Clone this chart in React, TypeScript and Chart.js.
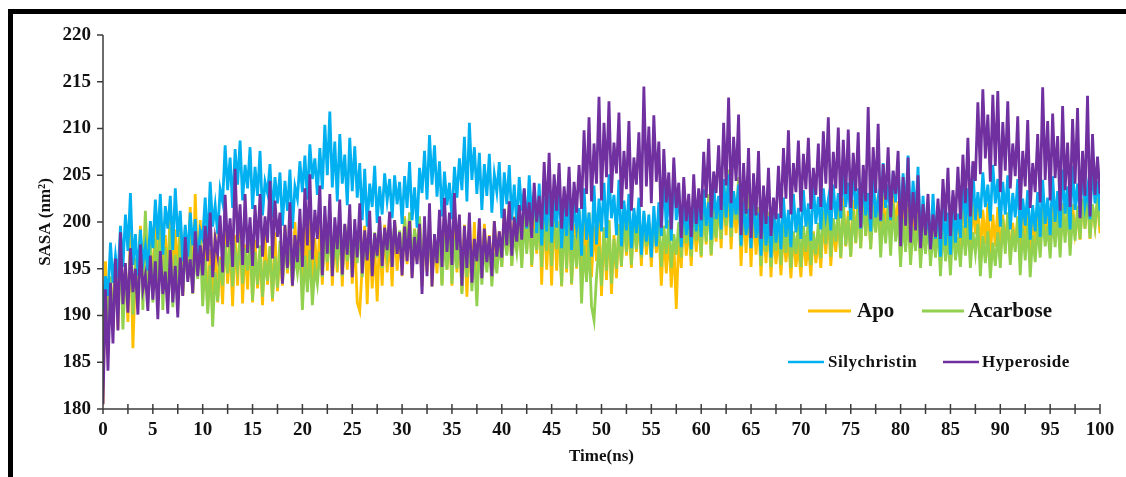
import React, { useEffect, useRef } from "react";
import { Chart, registerables } from "chart.js";

Chart.register(...registerables);

// Time step between samples (ns); samples run from 0 to 100 ns
const TIME_STEP_NS = 0.25;
const X_MIN = 0;
const X_MAX = 100;
const Y_MIN = 180;
const Y_MAX = 220;

const SERIES_NAMES = ["Apo", "Acarbose", "Silychristin", "Hyperoside"];
const SERIES_COLORS = ["#FFC000", "#92D050", "#00B0F0", "#7030A0"];

// SASA (nm^2), one value every 0.25 ns (20 values per 5 ns line)
const apo = [
  180.5, 195.8, 187.2, 194.1, 189.0, 196.3, 188.5, 198.4, 190.6, 195.2, 189.3, 198.9, 186.5, 194.7, 192.4, 199.6, 192.2, 200.8, 193.8, 198.5,
  192.5, 199.9, 194.1, 201.7, 192.3, 198.6, 193.7, 202.0, 192.6, 199.2, 194.4, 200.5, 192.1, 199.4, 193.9, 201.6, 192.3, 203.0, 194.8, 200.2,
  193.1, 198.4, 190.6, 197.1, 192.2, 198.9, 191.4, 196.3, 191.2, 199.5, 193.4, 197.8, 191.0, 198.6, 193.2, 199.9, 191.3, 197.6, 192.8, 199.1,
  191.4, 198.1, 192.9, 196.8, 191.1, 198.7, 193.3, 197.4, 191.5, 198.9, 192.6, 196.9, 193.2, 199.6, 194.5, 198.2, 193.1, 200.0, 194.7, 197.9,
  192.2, 199.8, 193.7, 200.9, 192.4, 198.3, 194.1, 199.5, 193.3, 200.6, 194.8, 201.0, 193.2, 198.9, 194.6, 200.4, 193.1, 199.7, 194.9, 200.8,
  193.4, 198.5, 191.4, 190.5, 195.2, 199.6, 191.2, 198.8, 192.9, 197.4, 191.5, 199.0, 193.2, 199.7, 194.6, 198.4, 193.1, 200.2, 194.8, 198.9,
  194.2, 200.6, 195.5, 201.0, 194.1, 199.3, 195.8, 200.4, 193.2, 199.1, 194.7, 200.0, 193.1, 198.5, 194.5, 199.6, 193.3, 200.8, 194.9, 199.4,
  193.2, 200.9, 194.6, 199.0, 192.5, 199.7, 192.0, 198.4, 193.4, 200.0, 192.3, 199.2, 194.2, 199.8, 195.3, 198.6, 194.1, 200.1, 195.6, 199.0,
  195.2, 201.4, 196.7, 202.0, 195.3, 200.6, 196.9, 201.8, 195.4, 202.5, 197.1, 203.0, 195.2, 201.1, 196.6, 202.2, 193.3, 201.5, 194.9, 200.4,
  193.2, 201.8, 194.8, 200.1, 193.1, 201.6, 194.6, 202.0, 193.3, 199.8, 195.0, 201.2, 194.2, 200.5, 195.6, 201.0, 194.1, 199.6, 195.8, 200.7,
  192.1, 199.4, 193.8, 200.2, 192.3, 198.6, 194.0, 199.8, 195.2, 200.9, 196.4, 199.6, 195.1, 201.0, 196.8, 200.3, 195.3, 200.8, 196.5, 199.9,
  195.2, 200.6, 196.7, 199.4, 193.2, 198.7, 194.5, 199.0, 193.0, 197.9, 190.7, 198.4, 195.1, 200.5, 196.4, 199.7, 195.3, 201.0, 196.8, 200.2,
  196.2, 202.3, 197.6, 203.0, 196.4, 201.5, 197.9, 202.6, 197.2, 203.5, 198.6, 204.0, 197.1, 202.4, 198.8, 203.2, 195.3, 201.6, 196.7, 202.0,
  195.2, 201.4, 196.5, 200.6, 194.2, 199.8, 195.6, 200.2, 194.1, 199.3, 195.5, 198.7, 194.3, 199.0, 195.7, 198.4, 194.0, 198.9, 195.2, 197.6,
  194.1, 198.8, 195.3, 197.5, 194.2, 199.0, 195.6, 198.2, 195.1, 200.4, 196.6, 201.0, 195.3, 199.6, 196.8, 200.7, 196.1, 202.6, 197.4, 201.2,
  196.3, 202.4, 197.7, 203.0, 197.2, 203.6, 198.5, 202.1, 197.1, 204.0, 198.9, 202.8, 198.2, 202.9, 199.4, 201.8, 198.1, 203.0, 199.6, 202.2,
  196.3, 201.6, 197.7, 202.0, 196.2, 200.8, 197.5, 201.4, 196.1, 200.6, 197.4, 201.0, 196.3, 200.2, 197.8, 200.9, 196.2, 201.8, 197.6, 200.5,
  196.4, 201.5, 197.9, 200.7, 197.1, 202.6, 198.4, 203.0, 197.2, 201.9, 198.7, 202.4, 196.2, 201.3, 197.6, 202.0, 196.1, 200.8, 197.4, 201.6,
  196.3, 200.8, 197.5, 201.0, 196.1, 199.9, 197.3, 200.6, 196.2, 201.7, 197.8, 202.0, 196.4, 200.9, 197.7, 201.5, 197.1, 202.0, 198.2, 201.1,
  197.2, 201.8, 198.4, 200.9, 197.1, 202.0, 198.6, 201.3, 197.3, 201.9, 198.8, 200.7, 198.1, 202.5, 199.3, 203.0, 198.2, 201.7, 199.5, 202.4,
  198.8,
];

const acarbose = [
  188.3, 193.6, 189.0, 194.2, 188.4, 195.8, 190.2, 196.9, 188.5, 194.7, 191.3, 197.0, 190.1, 196.2, 192.4, 199.0, 190.6, 201.2, 193.0, 197.8,
  191.4, 198.2, 193.5, 201.0, 190.6, 197.3, 192.8, 199.4, 190.9, 196.5, 193.1, 198.7, 192.2, 197.1, 194.0, 199.2, 192.3, 196.8, 193.9, 198.5,
  191.0, 196.1, 190.2, 195.4, 188.8, 194.6, 191.5, 196.0, 193.2, 197.6, 194.5, 198.1, 193.1, 196.9, 195.0, 198.3, 193.4, 197.2, 194.8, 197.9,
  191.6, 196.8, 193.3, 197.5, 192.0, 195.9, 193.7, 197.4, 191.8, 196.3, 193.0, 198.0, 193.4, 197.7, 194.9, 198.2, 193.2, 196.6, 194.6, 197.3,
  190.6, 196.4, 192.5, 197.0, 191.1, 195.2, 193.4, 196.8, 194.1, 198.6, 195.7, 199.1, 194.3, 197.9, 195.9, 198.8, 194.2, 199.7, 195.8, 198.4,
  194.4, 199.2, 195.6, 200.0, 194.1, 198.3, 196.0, 199.5, 194.5, 198.9, 196.2, 200.1, 195.1, 199.3, 196.4, 198.6, 195.2, 200.0, 196.8, 199.1,
  195.3, 200.4, 196.6, 201.0, 195.5, 199.2, 196.9, 200.6, 194.2, 198.5, 195.8, 199.0, 194.4, 197.9, 195.6, 198.8, 193.2, 198.4, 194.9, 199.1,
  193.4, 198.2, 195.0, 199.0, 192.3, 197.5, 194.1, 198.6, 192.6, 196.9, 191.0, 198.1, 193.3, 197.6, 194.6, 198.0, 193.1, 196.7, 194.5, 197.9,
  195.2, 199.6, 196.4, 200.1, 195.3, 198.8, 196.8, 199.9, 195.1, 200.4, 196.6, 201.0, 195.4, 199.3, 197.0, 200.6, 195.2, 201.8, 196.9, 200.5,
  195.3, 201.4, 197.1, 199.8, 193.2, 200.5, 195.0, 201.0, 193.4, 198.6, 195.2, 199.9, 191.3, 197.5, 193.6, 198.0, 191.0, 189.5, 194.1, 197.4,
  193.2, 199.4, 194.8, 200.1, 193.4, 198.2, 195.0, 199.6, 195.3, 201.2, 196.8, 202.0, 195.4, 200.3, 197.1, 201.5, 196.2, 200.8, 197.4, 199.6,
  196.3, 200.9, 197.5, 199.8, 195.2, 199.6, 196.6, 200.2, 195.1, 198.7, 196.5, 200.0, 196.2, 201.6, 197.7, 200.4, 196.3, 202.0, 198.0, 200.9,
  196.4, 202.1, 197.9, 203.0, 196.5, 200.6, 198.3, 202.7, 198.2, 204.4, 199.6, 205.6, 198.4, 203.1, 200.2, 204.8, 197.3, 202.5, 198.8, 203.9,
  197.2, 203.3, 198.9, 201.6, 195.3, 200.7, 196.8, 201.1, 195.2, 199.5, 196.9, 200.8, 195.4, 199.7, 196.7, 200.2, 195.1, 199.0, 196.6, 199.8,
  195.2, 199.6, 196.8, 200.3, 195.4, 198.8, 196.5, 199.9, 196.1, 201.3, 197.6, 202.0, 196.3, 200.4, 197.9, 201.5, 196.2, 201.8, 197.5, 200.6,
  196.3, 201.2, 197.8, 202.1, 197.2, 202.6, 198.5, 203.0, 197.1, 201.4, 198.9, 202.5, 196.2, 200.9, 197.7, 201.8, 196.4, 202.0, 197.9, 200.7,
  195.2, 200.4, 196.8, 201.0, 195.4, 199.5, 196.9, 200.6, 195.1, 199.3, 196.6, 200.1, 195.3, 198.8, 196.2, 199.7, 194.2, 199.4, 195.8, 198.6,
  194.3, 199.9, 195.9, 198.4, 195.2, 199.6, 196.4, 200.1, 195.1, 198.9, 196.7, 199.8, 194.2, 198.5, 195.6, 199.0, 194.0, 197.8, 195.3, 198.9,
  195.1, 200.3, 196.6, 201.0, 195.4, 199.2, 196.8, 200.5, 194.3, 199.4, 195.9, 200.0, 194.1, 198.6, 195.7, 199.8, 196.2, 200.9, 197.4, 199.6,
  196.1, 200.6, 197.3, 201.1, 196.2, 201.5, 197.8, 202.0, 196.4, 200.8, 198.0, 201.7, 198.2, 202.4, 199.3, 203.0, 198.3, 201.9, 199.6, 202.6,
  199.5,
];

const silychristin = [
  190.5, 194.2, 192.1, 197.8, 193.5, 196.4, 194.0, 199.6, 195.2, 200.8, 196.9, 203.1, 195.4, 198.7, 194.3, 199.2, 195.6, 197.4, 194.8, 200.1,
  197.2, 202.4, 198.1, 203.0, 196.5, 201.7, 199.3, 202.8, 197.0, 203.6, 198.4, 201.2, 195.8, 199.7, 196.3, 201.0, 197.5, 200.3, 195.4, 199.1,
  198.2, 202.6, 197.4, 204.3, 199.5, 201.8, 198.7, 203.5, 202.1, 208.2, 203.4, 206.9, 201.5, 207.8, 204.0, 208.7, 202.3, 206.1, 203.6, 208.0,
  201.4, 205.9, 202.8, 207.6, 200.7, 204.3, 203.1, 206.2, 200.5, 204.8, 202.0, 205.3, 199.6, 204.4, 201.2, 205.6, 199.3, 203.8, 202.5, 206.5,
  203.2, 207.1, 202.4, 208.3, 204.6, 206.8, 202.9, 207.9, 203.5, 210.4, 205.0, 211.8, 203.7, 208.6, 202.2, 209.4, 204.1, 207.2, 201.8, 209.0,
  203.3, 208.1, 202.6, 206.3, 200.2, 205.7, 199.5, 204.1, 201.6, 206.0, 199.9, 203.8, 200.8, 205.2, 202.3, 204.6, 200.4, 205.0, 201.9, 204.3,
  199.8, 204.9, 201.5, 206.4, 200.2, 203.7, 199.4, 205.8, 203.1, 207.6, 202.4, 209.3, 204.0, 208.2, 202.7, 206.5, 200.6, 205.4, 201.8, 204.2,
  200.3, 205.9, 202.6, 206.8, 203.4, 209.1, 202.2, 210.6, 204.5, 208.0, 203.0, 207.4, 201.3, 206.2, 202.8, 207.3, 201.0, 205.1, 203.2, 206.4,
  200.4, 205.3, 201.9, 206.1, 200.2, 204.0, 199.6, 204.8, 201.2, 203.5, 199.3, 205.0, 200.5, 203.2, 198.8, 204.1, 197.5, 202.6, 199.0, 203.9,
  197.8, 202.3, 199.4, 204.0, 197.2, 201.6, 198.5, 203.1, 197.0, 202.2, 199.3, 201.5, 196.4, 203.6, 198.1, 201.0, 196.3, 203.9, 197.6, 202.5,
  199.0, 204.2, 198.3, 205.1, 200.4, 202.9, 198.6, 204.5, 197.4, 202.3, 199.1, 203.0, 197.2, 201.5, 198.8, 202.6, 196.5, 201.2, 197.9, 200.8,
  196.2, 201.7, 197.4, 202.1, 198.5, 205.2, 199.3, 203.6, 198.0, 206.1, 200.2, 203.3, 197.3, 202.4, 198.6, 201.1, 197.1, 202.9, 199.0, 201.7,
  198.4, 203.5, 199.6, 202.1, 198.1, 204.2, 200.3, 202.8, 199.2, 204.6, 200.5, 205.1, 199.4, 203.3, 200.8, 204.0, 197.5, 202.2, 198.6, 201.4,
  197.2, 202.9, 198.3, 201.0, 196.4, 201.8, 197.5, 200.6, 196.2, 202.0, 197.8, 200.9, 197.1, 202.6, 198.4, 201.3, 197.3, 203.0, 198.9, 201.5,
  198.2, 203.4, 199.5, 202.0, 198.0, 204.1, 199.8, 202.7, 199.2, 203.6, 200.6, 202.4, 199.1, 204.0, 200.3, 203.1, 200.4, 205.5, 201.6, 204.2,
  200.2, 205.8, 201.4, 203.6, 199.3, 204.8, 200.7, 203.1, 199.0, 205.0, 200.5, 202.6, 200.1, 206.3, 201.5, 204.0, 200.2, 205.4, 202.1, 206.5,
  199.6, 205.2, 201.0, 207.1, 199.3, 204.4, 200.6, 205.9, 197.5, 202.8, 198.6, 201.4, 197.1, 203.0, 198.2, 201.7, 196.3, 202.4, 197.5, 201.0,
  196.5, 202.8, 197.8, 200.9, 198.3, 205.1, 199.4, 203.6, 198.1, 206.0, 200.2, 203.2, 200.4, 205.3, 201.6, 204.0, 200.1, 206.1, 202.0, 204.6,
  199.5, 204.3, 200.8, 205.0, 199.2, 203.1, 200.5, 204.6, 198.3, 202.5, 199.6, 203.4, 198.1, 201.8, 199.0, 203.2, 198.4, 204.5, 199.8, 202.6,
  198.6, 204.9, 200.0, 203.3, 199.4, 205.6, 200.9, 203.8, 199.2, 206.0, 201.3, 204.1, 200.5, 205.7, 201.8, 203.6, 200.3, 206.2, 202.0, 204.4,
  201.2,
];

const hyperoside = [
  180.5, 192.8, 184.1, 193.5, 187.0, 196.1, 188.4, 198.9, 191.2, 195.6, 190.3, 197.2, 192.5, 195.0, 190.1, 197.6, 192.8, 194.3, 190.5, 196.4,
  191.7, 195.8, 189.6, 196.9, 192.3, 194.7, 190.2, 197.0, 191.4, 195.3, 189.8, 196.2, 192.1, 198.4, 193.6, 196.0, 192.4, 199.0, 194.2, 197.5,
  194.3, 199.6, 195.8, 201.0, 194.1, 198.2, 196.5, 200.7, 194.6, 202.9, 197.3, 200.4, 195.2, 205.7, 197.8, 201.9, 195.4, 203.0, 196.7, 200.5,
  195.3, 201.8, 197.2, 203.0, 196.3, 200.6, 197.8, 204.4, 196.1, 202.3, 198.4, 201.0, 193.4, 199.7, 195.1, 202.1, 193.2, 198.6, 195.7, 201.4,
  195.2, 203.6, 197.5, 205.1, 196.0, 201.3, 198.2, 203.9, 194.3, 201.7, 196.6, 203.0, 194.2, 200.5, 197.1, 202.4, 194.4, 199.8, 196.5, 201.9,
  194.1, 200.3, 196.2, 202.0, 194.5, 199.1, 195.9, 201.2, 194.2, 198.8, 196.4, 200.6, 195.3, 199.4, 197.0, 201.1, 195.2, 200.2, 196.6, 198.9,
  194.3, 199.5, 195.8, 200.1, 194.0, 198.4, 195.5, 199.8, 192.3, 200.6, 194.2, 202.0, 193.1, 198.7, 195.6, 201.3, 195.2, 202.6, 196.8, 201.0,
  195.4, 203.1, 197.0, 200.8, 193.2, 199.6, 195.1, 201.0, 193.5, 198.2, 195.8, 200.4, 194.0, 199.3, 195.7, 198.5, 194.2, 200.1, 196.3, 199.0,
  196.2, 201.4, 197.5, 202.2, 196.4, 200.5, 197.9, 201.8, 198.1, 203.6, 199.5, 202.1, 198.3, 204.2, 200.0, 202.8, 199.2, 206.4, 200.8, 207.4,
  199.5, 205.1, 201.2, 206.3, 199.3, 203.8, 200.6, 205.9, 199.1, 204.3, 201.0, 206.1, 201.4, 209.8, 203.0, 211.2, 202.2, 208.4, 204.1, 213.4,
  202.3, 210.6, 204.8, 212.9, 203.1, 208.5, 205.2, 211.7, 201.4, 207.6, 203.5, 210.8, 201.2, 206.9, 204.0, 209.6, 201.6, 214.5, 203.8, 210.2,
  202.0, 211.4, 204.3, 208.6, 199.4, 207.8, 202.1, 205.3, 199.2, 206.9, 201.5, 204.2, 198.3, 204.8, 200.1, 203.0, 198.4, 205.1, 199.8, 203.6,
  200.2, 207.5, 202.6, 208.9, 200.5, 205.4, 203.1, 208.2, 201.3, 210.6, 203.9, 213.3, 202.0, 209.1, 204.4, 211.5, 198.6, 206.3, 200.9, 207.9,
  198.3, 205.2, 200.7, 207.6, 198.2, 203.9, 199.8, 205.8, 198.5, 202.6, 200.3, 206.0, 200.4, 207.9, 202.5, 209.8, 200.8, 206.3, 203.2, 208.7,
  201.1, 207.3, 203.5, 209.0, 201.4, 205.8, 202.9, 208.4, 201.6, 209.7, 204.1, 211.2, 201.3, 207.5, 203.6, 210.1, 201.2, 208.8, 203.0, 209.9,
  201.5, 207.4, 203.3, 209.6, 199.4, 206.1, 202.2, 212.3, 200.3, 208.0, 203.1, 210.5, 200.2, 206.2, 202.4, 208.0, 200.5, 205.5, 203.0, 207.6,
  197.4, 204.8, 199.6, 206.9, 197.8, 203.2, 199.1, 205.0, 197.2, 201.9, 198.6, 203.0, 197.1, 200.8, 198.4, 202.5, 198.2, 204.6, 200.1, 205.8,
  198.5, 203.4, 200.2, 205.9, 200.3, 207.2, 202.0, 209.0, 200.6, 206.5, 204.4, 212.8, 205.1, 214.2, 206.8, 211.5, 204.3, 213.6, 206.0, 214.0,
  203.2, 210.7, 205.5, 212.9, 203.6, 208.4, 204.9, 211.3, 201.3, 207.6, 203.8, 210.9, 201.5, 206.3, 203.2, 209.4, 202.1, 214.4, 204.5, 210.8,
  202.3, 211.6, 204.7, 209.2, 201.2, 212.4, 203.4, 208.5, 201.6, 211.0, 204.1, 212.2, 200.4, 207.6, 202.8, 213.5, 200.6, 209.4, 202.9, 207.0,
  203.0,
];

const SERIES_VALUES = [apo, acarbose, silychristin, hyperoside];

const FONT_FAMILY = "'Times New Roman', 'Liberation Serif', serif";

const toPoints = (values: number[]) =>
  values.map((v, i) => ({ x: i * TIME_STEP_NS, y: v }));

const axesPlugin = {
  id: "axesDraw",
  afterDatasetsDraw(chart: any) {
    const { ctx, chartArea: a, scales } = chart;
    ctx.save();
    ctx.strokeStyle = "#3c3c3c";
    ctx.lineWidth = 1.5;
    ctx.beginPath();
    ctx.moveTo(a.left, a.top);
    ctx.lineTo(a.left, a.bottom);
    ctx.lineTo(a.right, a.bottom);
    scales.y.ticks.forEach((t: any) => {
      const y = scales.y.getPixelForValue(t.value);
      ctx.moveTo(a.left - 6, y);
      ctx.lineTo(a.left, y);
    });
    scales.x.ticks.forEach((t: any) => {
      const x = scales.x.getPixelForValue(t.value);
      ctx.moveTo(x, a.bottom - 5);
      ctx.lineTo(x, a.bottom + 5);
    });
    ctx.stroke();
    ctx.restore();
  },
};

// custom legend: two rows inside the plot, bottom-right
const legendPlugin = {
  id: "customLegend",
  afterDraw(chart: any) {
    const { ctx, chartArea: a } = chart;
    const items = [
      { s: 0, x1: -292, x2: -249, tx: -243, dy: -98, size: 21, lw: 3, sp: 0 },
      { s: 1, x1: -178, x2: -136, tx: -132, dy: -98, size: 21, lw: 3, sp: 0 },
      { s: 2, x1: -312, x2: -276, tx: -272, dy: -47, size: 17, lw: 2.5, sp: 0.5 },
      { s: 3, x1: -157, x2: -121, tx: -118, dy: -47, size: 17, lw: 2.5, sp: 0.5 },
    ];
    ctx.save();
    items.forEach((it) => {
      const y = a.bottom + it.dy;
      ctx.strokeStyle = SERIES_COLORS[it.s];
      ctx.lineWidth = it.lw;
      ctx.beginPath();
      ctx.moveTo(a.right + it.x1, y);
      ctx.lineTo(a.right + it.x2, y);
      ctx.stroke();
      ctx.fillStyle = "#111";
      ctx.font = `bold ${it.size}px ${FONT_FAMILY}`;
      (ctx as any).letterSpacing = `${it.sp}px`;
      ctx.textBaseline = "middle";
      ctx.textAlign = "left";
      ctx.fillText(SERIES_NAMES[it.s], a.right + it.tx, y + 1);
    });
    ctx.restore();
  },
};

export default function App() {
  const canvasRef = useRef<HTMLCanvasElement | null>(null);

  useEffect(() => {
    if (!canvasRef.current) return;
    const chart = new Chart(canvasRef.current, {
      type: "line",
      data: {
        datasets: SERIES_VALUES.map((vals, i) => ({
          label: SERIES_NAMES[i],
          data: toPoints(vals),
          borderColor: SERIES_COLORS[i],
          backgroundColor: SERIES_COLORS[i],
          borderWidth: 2.8,
          pointRadius: 0,
          tension: 0,
          fill: false,
          order: 4 - i,
        })),
      },
      options: {
        animation: false,
        responsive: false,
        events: [],
        layout: { padding: { top: 27, right: 18, bottom: 0, left: 0 } },
        plugins: {
          legend: { display: false },
          tooltip: { enabled: false },
        },
        scales: {
          x: {
            type: "linear",
            min: X_MIN,
            max: X_MAX,
            grid: { display: false, drawTicks: false },
            border: { display: false },
            ticks: {
              stepSize: 2.5,
              maxTicksLimit: 100,
              autoSkip: false,
              maxRotation: 0,
              padding: 10,
              color: "#111",
              font: { family: FONT_FAMILY, size: 19, weight: "bold" },
              callback: (v: any) => (Number(v) % 5 === 0 ? String(v) : ""),
            },
            title: {
              display: true,
              text: "Time(ns)",
              color: "#111",
              font: { family: FONT_FAMILY, size: 17, weight: "bold" },
              padding: { top: 0, bottom: 2 },
            },
            afterFit: (s: any) => {
              s.height = 60;
              s.paddingRight = 0;
              s.paddingLeft = 0;
            },
          },
          y: {
            min: Y_MIN,
            max: Y_MAX,
            grid: { display: false, drawTicks: false },
            border: { display: false },
            ticks: {
              stepSize: 5,
              padding: 12,
              color: "#111",
              font: { family: FONT_FAMILY, size: 19, weight: "bold" },
            },
            title: {
              display: true,
              text: "SASA (nm²)",
              color: "#111",
              font: { family: FONT_FAMILY, size: 17, weight: "bold" },
              padding: { top: 27, bottom: 0 },
            },
            afterFit: (s: any) => {
              s.width = 95;
            },
          },
        },
      },
      plugins: [axesPlugin, legendPlugin],
    });
    return () => chart.destroy();
  }, []);

  return (
    <div style={{ position: "relative", width: 1110, height: 461 }}>
      <div
        style={{
          position: "fixed",
          left: 8,
          top: 9,
          width: 1300,
          height: 700,
          borderLeft: "5px solid #000",
          borderTop: "5px solid #000",
          boxSizing: "border-box",
          pointerEvents: "none",
        }}
      />
      <canvas
        ref={canvasRef}
        width={1110}
        height={461}
        style={{ position: "absolute", left: 0, top: 0, width: 1110, height: 461 }}
      />
    </div>
  );
}
